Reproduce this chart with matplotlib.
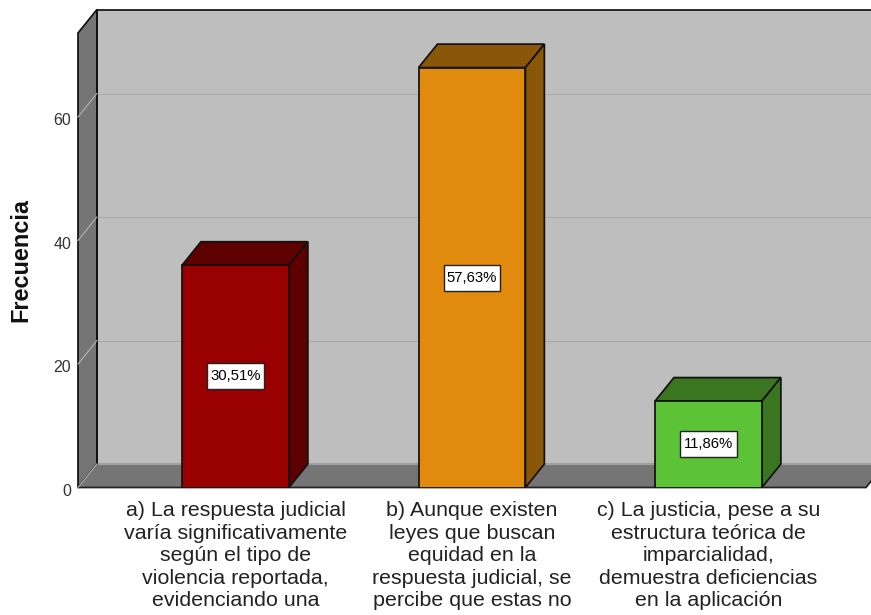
import matplotlib
matplotlib.use("Agg")
import matplotlib.pyplot as plt
from matplotlib.patches import Polygon, Rectangle
from matplotlib.transforms import ScaledTranslation

categorias = [
    "a) La respuesta judicial\nvaría significativamente\nsegún el tipo de\nviolencia reportada,\nevidenciando una",
    "b) Aunque existen\nleyes que buscan\nequidad en la\nrespuesta judicial, se\npercibe que estas no",
    "c) La justicia, pese a su\nestructura teórica de\nimparcialidad,\ndemuestra deficiencias\nen la aplicación",
]
frecuencias = [36, 68, 14]
porcentajes = ["30,51%", "57,63%", "11,86%"]
ticks_y = [0, 20, 40, 60]

colores = ["#990000", "#E08A0E", "#5CC236"]
colores_osc = ["#5F0000", "#8A5708", "#39761F"]

plt.rcParams["font.family"] = ["Liberation Sans", "DejaVu Sans"]

fig = plt.figure(figsize=(8.71, 6.15), dpi=100)
ax = fig.add_axes([78 / 871, (615 - 487.5) / 615, (866 - 78) / 871, (487.5 - 33) / 615])

x0, x1 = -0.666, 2.666
y_top = 73.6
# profundidad del efecto 3D, en unidades de datos
dx = 0.08
dy = 3.8
ancho = 0.452
borde = "#111111"
lw = 1.25

ax.set_xlim(x0, x1)
ax.set_ylim(0, y_top)
for s in ax.spines.values():
    s.set_visible(False)
ax.patch.set_visible(False)

# paredes
ax.add_patch(Polygon([(x0 + dx, dy), (x1 + dx, dy), (x1 + dx, y_top + dy), (x0 + dx, y_top + dy)],
                     fc="#BEBEBE", ec=borde, lw=lw, clip_on=False, zorder=1))
ax.add_patch(Polygon([(x0, 0), (x0 + dx, dy), (x0 + dx, y_top + dy), (x0, y_top)],
                     fc="#757575", ec=borde, lw=lw, clip_on=False, zorder=2))
ax.add_patch(Polygon([(x0, 0), (x1, 0), (x1 + dx, dy), (x0 + dx, dy)],
                     fc="#757575", ec="none", clip_on=False, zorder=2))
ax.plot([x0 + dx, x1 + dx], [dy, dy], color="#A0A0A0", lw=1.5, clip_on=False, zorder=2)
ax.plot([x0, x1, x1 + dx], [0, 0, dy], color="#222222", lw=lw, clip_on=False, zorder=3)
ax.plot([x0 + dx, x0 + dx], [dy, y_top + dy], color=borde, lw=lw, clip_on=False, zorder=3)

# rejilla
for t in ticks_y:
    ax.plot([x0, x0 + dx], [t, t + dy], color="#B4B4B4", lw=0.8, clip_on=False, zorder=3)
    if t > 0:
        ax.plot([x0 + dx, x1 + dx], [t + dy, t + dy], color="#ABABAB", lw=0.8, clip_on=False, zorder=1.5)

# barras
pos = list(range(len(frecuencias)))
ax.bar(pos, frecuencias, width=ancho, color=colores, edgecolor=borde, lw=lw, zorder=5)
for p, v, osc in zip(pos, frecuencias, colores_osc):
    izq = p - ancho / 2
    der = p + ancho / 2
    ax.add_patch(Polygon([(izq, v), (der, v), (der + dx, v + dy), (izq + dx, v + dy)],
                         fc=osc, ec=borde, lw=lw, zorder=4, clip_on=False))
    ax.add_patch(Polygon([(der, 0), (der + dx, dy), (der + dx, v + dy), (der, v)],
                         fc=osc, ec=borde, lw=lw, zorder=4, clip_on=False))

# etiquetas de porcentaje
caja_w = 0.237
caja_h = 4.2
for p, v, txt in zip(pos, frecuencias, porcentajes):
    ax.add_patch(Rectangle((p - caja_w / 2, v / 2 - caja_h / 2), caja_w, caja_h,
                           fc="white", ec="#222222", lw=1, zorder=6))
    ax.text(p, v / 2, txt, ha="center", va="center", fontsize=10.7, color="black", zorder=7)

ax.set_xticks(pos)
ax.set_xticklabels(categorias, fontsize=15.4, color="#222222", linespacing=1.23)
ax.set_yticks(ticks_y)
ax.set_yticklabels([str(t) for t in ticks_y], fontsize=11.5, color="#333333")
ax.tick_params(axis="both", length=0)
ax.tick_params(axis="x", pad=10)
ax.tick_params(axis="y", pad=5)
for lab in ax.get_yticklabels():
    lab.set_transform(lab.get_transform() + ScaledTranslation(0, -1.5 / 72, fig.dpi_scale_trans))
ax.set_ylabel("Frecuencia", fontsize=16.9, fontweight="bold", color="#111111")
ax.yaxis.set_label_coords((32 - 78) / (866 - 78), (487 - 260) / (487 - 33))

fig.savefig("out.png", dpi=100)
